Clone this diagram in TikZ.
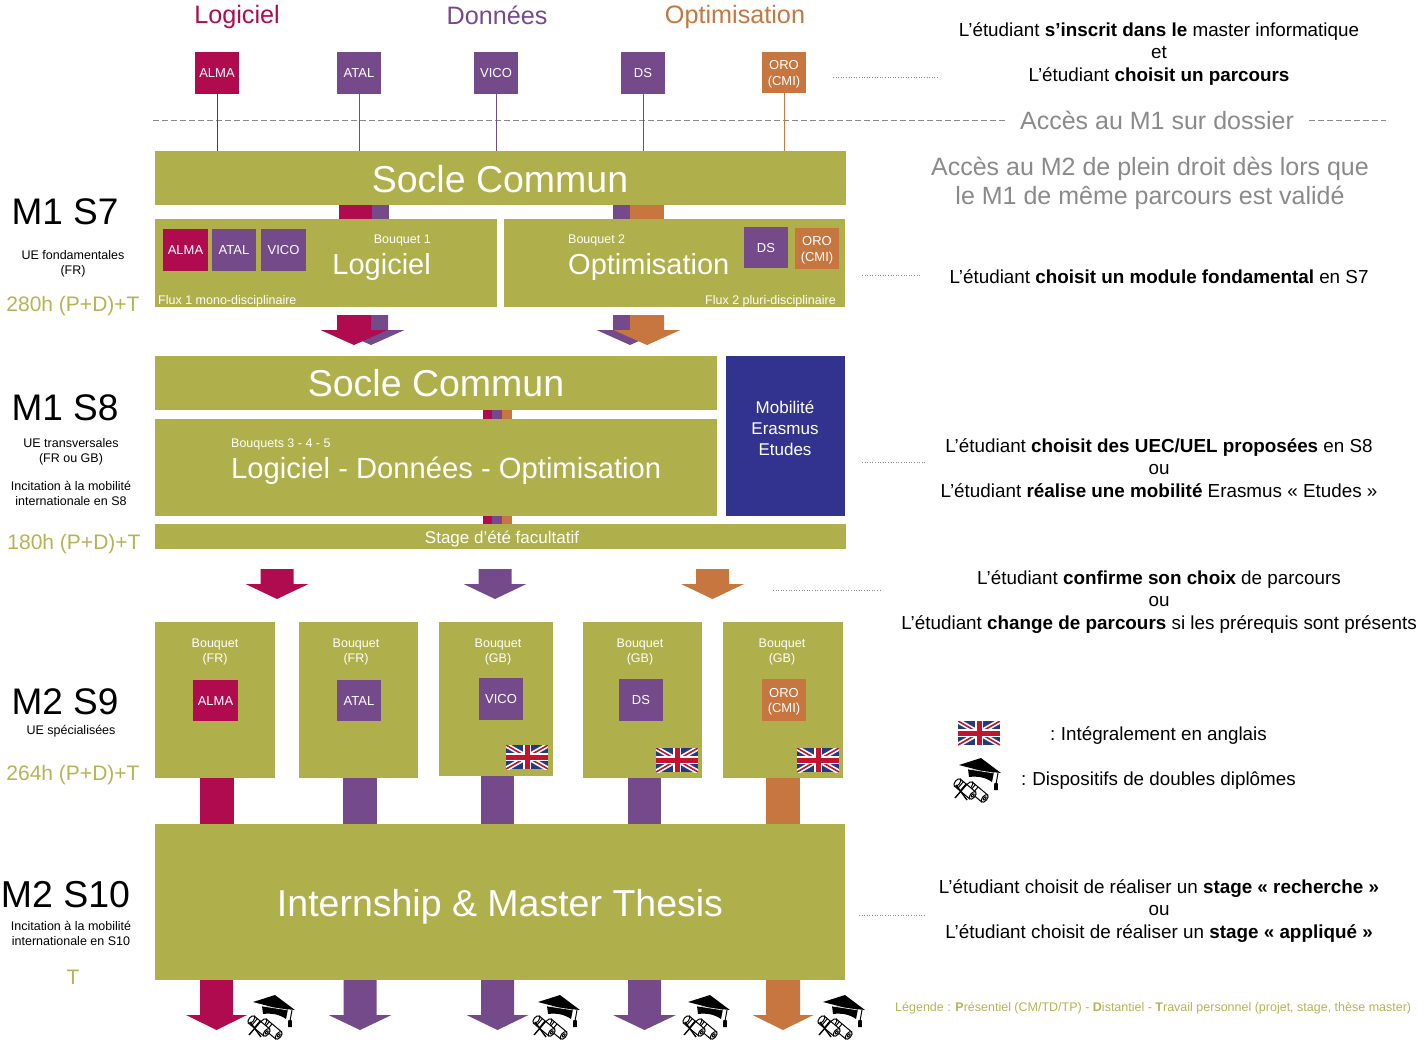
\documentclass[tikz,border=0pt]{standalone}
\usepackage{fontspec}
\setmainfont{Liberation Sans}
\definecolor{olive}{HTML}{AFAF4B}
\definecolor{olivetxt}{HTML}{B4B455}
\definecolor{crim}{HTML}{B00B4F}
\definecolor{purp}{HTML}{754A8B}
\definecolor{oran}{HTML}{C6763E}
\definecolor{navy}{HTML}{32338F}
\definecolor{greytxt}{HTML}{8A8A8A}
\definecolor{flagblue}{HTML}{24397F}
\definecolor{flagred}{HTML}{C0142F}
\newcommand{\fs}[1]{\fontsize{#1}{#1}\selectfont}
\newcommand{\pxbox}[7][]{\node[inner sep=0pt,outer sep=0pt,fill=#2,text=white,align=center,#1,
  minimum width={(#6-#4)*1pt},minimum height={(#7-#5)*1pt}] (#3) at ({(#4+#6)/2},{(#5+#7)/2}) {};}
\newcommand{\tagb}[7]{\node[inner sep=0pt,outer sep=0pt,fill=#1,text=white,align=center,
  minimum width={(#5-#3)*1pt},minimum height={(#6-#4)*1pt}] (#2) at ({(#3+#5)/2},{(#4+#6)/2}) {\raisebox{-4.8pt}[0pt][0pt]{\fontsize{13}{15.5}\selectfont\begin{tabular}{@{}c@{}}#7\end{tabular}}};}
\newcommand{\dnarrow}[7]{\fill[#1] (#2-#3,#5) -- (#2+#3,#5) -- (#2+#3,#6) -- (#2+#4,#6) -- (#2,#7) -- (#2-#4,#6) -- (#2-#3,#6) -- cycle;}
\newcommand{\ukflag}[2]{\begin{scope}[shift={(#1,#2)}]
  \clip (0,0) rectangle (42,24);
  \fill[flagblue] (0,0) rectangle (42,24);
  \draw[white,line width=5pt] (0,0) -- (42,24) (0,24) -- (42,0);
  \draw[flagred,line width=1.6pt] (0,0) -- (42,24) (0,24) -- (42,0);
  \draw[white,line width=8pt] (21,0) -- (21,24) (0,12) -- (42,12);
  \draw[flagred,line width=5pt] (21,0) -- (21,24) (0,12) -- (42,12);
\end{scope}}
\newcommand{\scrollroll}[3]{\begin{scope}[shift={(#1,#2)},rotate=-40]
  \draw[black,fill=white,line width=1pt] (-#3,-4.6) rectangle (#3,4.6);
  \draw[black,fill=white,line width=1pt] (#3,0) ellipse [x radius=2.4pt,y radius=4.6pt];
  \draw[black,fill=white,line width=1pt] (-#3,0) ellipse [x radius=2.4pt,y radius=4.6pt];
  \draw[black,line width=1pt] (-#3+4,-4.6) -- (-#3+4,4.6) (-#3+7.5,-4.6) -- (-#3+7.5,4.6) (#3,0) ellipse [x radius=1pt,y radius=2pt];
\end{scope}}
\newcommand{\gradcap}[2]{\begin{scope}[shift={(#1,#2)}]
  \fill[black] (-10,-5) -- (-9,3) .. controls (-1,2) and (7,3) .. (14,8) -- (16,-2) -- cycle;
  \fill[black] (-19,-9) -- (3,-16) -- (23,-1) -- (4,-3) -- cycle;
  \draw[white,line width=.6pt] (-10,-5) -- (3,-3) -- (16,-1);
  \draw[black,line width=1pt] (20,-1) -- (18,10);
  \fill[black] (16.3,9) -- (19.7,9) -- (20,16) -- (16,16) -- cycle;
  \scrollroll{-1}{18}{10}
  \scrollroll{-13}{15}{10}
  \draw[black,line width=1.4pt] (-23,24) -- (-11,10) (-22,11) -- (-11,26);
\end{scope}}
\tikzset{
  thinline/.style={line width=.9pt},
  leader/.style={greytxt,line width=.6pt,dotted},
  heading/.style={inner sep=0pt,font=\fs{25.2}},
  sem/.style={inner sep=0pt,font=\fs{37}},
  small/.style={inner sep=0pt,align=center,font=\fontsize{12.5}{15}\selectfont},
  hours/.style={inner sep=0pt,text=olivetxt,font=\fs{21}},
  rtext/.style={inner sep=0pt,align=center,font=\fontsize{18.85}{22.4}\selectfont},
  grey/.style={inner sep=0pt,align=center,text=greytxt,font=\fontsize{25}{29.5}\selectfont},
  wt/.style={inner sep=0pt,text=white,align=center},
}
\begin{document}
\begin{tikzpicture}[x=1pt,y=-1pt]
\useasboundingbox (0,0) rectangle (1424,1052);
% titles
\node[heading,text=crim] (tLog) at (237,17) {Logiciel};
\node[heading,text=purp] (tDon) at (497,15) {Données};
\node[heading,text=oran] (tOpt) at (735,17) {Optimisation};
% top tags
\tagb{crim}{aALMA}{195}{52}{239}{94}{ALMA}
\tagb{purp}{aATAL}{337}{52}{381}{94}{ATAL}
\tagb{purp}{aVICO}{474}{52}{518}{94}{VICO}
\tagb{purp}{aDS}{621}{52}{665}{94}{DS}
\tagb{oran}{aORO}{762}{52}{806}{93}{ORO\\(CMI)}
% dashed separator
\coordinate (dA) at (153,120); \coordinate (dB) at (1005,120);
\coordinate (dC) at (1309,120); \coordinate (dD) at (1386,120);
\draw[greytxt,line width=.8pt,dash pattern=on 6pt off 3pt] (dA) -- (dB) (dC) -- (dD);
\node[inner sep=0pt,text=greytxt,font=\fs{25}] (acc1) at (1157,120) {Accès au M1 sur dossier};
% S7 strips
\fill[crim] (339,205) rectangle (372,219);
\fill[purp] (372,205) rectangle (389,219);
\fill[purp] (613,205) rectangle (630,219);
\fill[oran] (630,205) rectangle (664,219);
% Socle S7
\pxbox{olive}{socA}{155}{151}{846}{205}
\node[wt,font=\fs{37.5}] (socAt) at (500,179) {Socle Commun};
\draw[crim,thinline] (aALMA.south) -- (aALMA.south |- socA.north);
\draw[purp,thinline] (aATAL.south) -- (aATAL.south |- socA.north);
\draw[purp,thinline] (aVICO.south) -- (aVICO.south |- socA.north);
\draw[purp,thinline] (aDS.south) -- (aDS.south |- socA.north);
\draw[oran,thinline] (aORO.south) -- (aORO.south |- socA.north);
% Bouquets 1, 2
\pxbox{olive}{bqA}{155}{219}{497}{307}
\pxbox{olive}{bqB}{504}{219}{845}{307}
\tagb{crim}{bALMA}{163}{229}{208}{271}{ALMA}
\tagb{purp}{bATAL}{212}{229}{256}{271}{ATAL}
\tagb{purp}{bVICO}{261}{229}{306}{271}{VICO}
\tagb{purp}{bDS}{744}{227}{788}{268}{DS}
\tagb{oran}{bORO}{795}{228}{839}{269}{ORO\\(CMI)}
\node[wt,font=\fs{12.5},anchor=east] (bqAa) at (431,240) {Bouquet 1};
\node[wt,font=\fs{29},anchor=east] (bqAb) at (431,267) {Logiciel};
\node[wt,font=\fs{12.5},anchor=west] (bqAc) at (158,301) {Flux 1 mono-disciplinaire};
\node[wt,font=\fs{12.5},anchor=west] (bqBa) at (568,240) {Bouquet 2};
\node[wt,font=\fs{29},anchor=west] (bqBb) at (568,267) {Optimisation};
\node[wt,font=\fs{12.5},anchor=east] (bqBc) at (836,301) {Flux 2 pluri-disciplinaire};
% arrows S7->S8
\dnarrow{purp}{371}{17}{33.5}{315}{330}{345}
\dnarrow{crim}{354}{17}{33.5}{315}{330}{345}
\dnarrow{purp}{630}{17}{33.5}{315}{330}{345}
\dnarrow{oran}{647}{17}{33.5}{315}{330}{345}
% S8
\fill[crim] (483,410) rectangle (492,419);
\fill[purp] (492,410) rectangle (502,419);
\fill[oran] (502,410) rectangle (512,419);
\fill[crim] (483,516) rectangle (492,524);
\fill[purp] (492,516) rectangle (502,524);
\fill[oran] (502,516) rectangle (512,524);
\pxbox{olive}{socB}{155}{356}{717}{410}
\node[wt,font=\fs{37.5}] (socBt) at (436,383) {Socle Commun};
\pxbox{olive}{bqC}{155}{419}{717}{516}
\node[wt,font=\fs{12.5},anchor=west] (bqCa) at (231,444) {Bouquets 3 - 4 - 5};
\node[wt,font=\fs{29.2},anchor=west] (bqCb) at (231,471) {Logiciel - Données - Optimisation};
\pxbox{navy}{mob}{726}{356}{845}{516}
\node[wt,font=\fontsize{17}{21}\selectfont] (mobt) at (785,428) {Mobilité\\Erasmus\\Etudes};
\pxbox{olive}{stage}{155}{524}{846}{549}
\node[wt,font=\fs{17}] (staget) at (502,538.5) {Stage d’été facultatif};
% arrows S8->S9
\dnarrow{crim}{277}{16.5}{31.5}{569}{584}{599}
\dnarrow{purp}{495}{16.5}{31.5}{569}{584}{599}
\dnarrow{oran}{712.5}{16.5}{31.5}{569}{584}{599}
% shafts S9->S10
\fill[crim] (200,776) rectangle (234,824);
\fill[purp] (343,776) rectangle (377,824);
\fill[purp] (481,776) rectangle (514,824);
\fill[purp] (628,776) rectangle (661,824);
\fill[oran] (766,776) rectangle (800,824);
% S9 boxes
\pxbox{olive}{sA}{155}{622}{275}{778}
\pxbox{olive}{sB}{299}{622}{418}{778}
\pxbox{olive}{sC}{439}{622}{553}{776}
\pxbox{olive}{sD}{583}{622}{702}{778}
\pxbox{olive}{sE}{723}{622}{843}{778}
\tikzset{bq/.style={wt,font=\fontsize{12.5}{15}\selectfont}}
\node[bq] (sAt) at (215,651.5) {Bouquet\\(FR)};
\node[bq] (sBt) at (356,651.5) {Bouquet\\(FR)};
\node[bq] (sCt) at (498,651.5) {Bouquet\\(GB)};
\node[bq] (sDt) at (640,651.5) {Bouquet\\(GB)};
\node[bq] (sEt) at (782,651.5) {Bouquet\\(GB)};
\tagb{crim}{cALMA}{193}{680}{238}{721}{ALMA}
\tagb{purp}{cATAL}{337}{680}{381}{721}{ATAL}
\tagb{purp}{cVICO}{479}{678}{523}{720}{VICO}
\tagb{purp}{cDS}{619}{679}{663}{721}{DS}
\tagb{oran}{cORO}{762}{679}{806}{721}{ORO\\(CMI)}
\ukflag{506}{745}
\ukflag{656}{748}
\ukflag{797}{748}
% Thesis
\pxbox{olive}{thesis}{155}{824}{845}{980}
\node[wt,font=\fs{37.5}] (thesist) at (500,907) {Internship \& Master Thesis};
% bottom arrows
\dnarrow{crim}{216.5}{16.5}{30.5}{980}{1015}{1030}
\dnarrow{purp}{360}{16.5}{31.5}{980}{1015}{1030}
\dnarrow{purp}{497.5}{16.5}{31}{980}{1015}{1030}
\dnarrow{purp}{644.5}{16.5}{31.5}{980}{1015}{1030}
\dnarrow{oran}{783}{17}{30.5}{980}{1015}{1030}
\gradcap{272}{1011}
\gradcap{557}{1011}
\gradcap{707}{1011}
\gradcap{842}{1011}
% left labels
\node[sem] (mA) at (65,212) {M1 S7};
\node[small] (mAa) at (73,263.5) {UE fondamentales\\(FR)};
\node[hours] (mAh) at (73,306) {280h (P+D)+T};
\node[sem] (mB) at (65,408) {M1 S8};
\node[small] (mBa) at (71,451.5) {UE transversales\\(FR ou GB)};
\node[small] (mBb) at (71,493.5) {Incitation à la mobilité\\internationale en S8};
\node[hours] (mBh) at (74,544) {180h (P+D)+T};
\node[sem] (mC) at (65,702) {M2 S9};
\node[small] (mCa) at (71,731) {UE spécialisées};
\node[hours] (mCh) at (73,775) {264h (P+D)+T};
\node[inner sep=0pt,font=\fs{37.5}] (mD) at (65.5,895) {M2 S10};
\node[small] (mDa) at (71,933.5) {Incitation à la mobilité\\internationale en S10};
\node[hours] (mDh) at (73,977) {T};
% right text
\node[rtext] (rA) at (1159,54) {L’étudiant \textbf{s’inscrit dans le} master informatique\\et\\L’étudiant \textbf{choisit un parcours}};
\node[grey] (rB) at (1150,183.5) {Accès au M2 de plein droit dès lors que\\le M1 de même parcours est validé};
\node[rtext] (rC) at (1159,276.5) {L’étudiant \textbf{choisit un module fondamental} en S7};
\node[rtext] (rD) at (1159,468) {L’étudiant \textbf{choisit des UEC/UEL proposées} en S8\\ou\\L’étudiant \textbf{réalise une mobilité} Erasmus « Etudes »};
\node[rtext] (rE) at (1159,602) {L’étudiant \textbf{confirme son choix} de parcours\\ou\\L’étudiant \textbf{change de parcours} si les prérequis sont présents};
\ukflag{958}{721}
\gradcap{978}{774}
\node[inner sep=0pt,font=\fs{18.8},anchor=west] (rF) at (1050,736) {:\hspace{-1.5pt} Intégralement en anglais};
\node[inner sep=0pt,font=\fs{18.8},anchor=west] (rG) at (1021,781) {:\hspace{-1pt} Dispositifs de doubles diplômes};
\node[rtext] (rH) at (1159,911) {L’étudiant choisit de réaliser un \textbf{stage « recherche »}\\ou\\L’étudiant choisit de réaliser un \textbf{stage « appliqué »}};
\node[inner sep=0pt,text=olivetxt,font=\fs{12.5},anchor=west] (leg) at (895,1008) {Légende : \textbf{P}résentiel (CM/TD/TP) - \textbf{D}istantiel - \textbf{T}ravail personnel (projet, stage, thèse master)};
% leaders
\coordinate (lAa) at (833,77); \coordinate (lAb) at (939,77);
\coordinate (lBa) at (862,275); \coordinate (lBb) at (920,275);
\coordinate (lCa) at (862,462); \coordinate (lCb) at (926,462);
\coordinate (lDa) at (773,590); \coordinate (lDb) at (880,590);
\coordinate (lEa) at (859,915); \coordinate (lEb) at (926,915);
\draw[leader] (lAa) -- (lAb);
\draw[leader] (lBa) -- (lBb);
\draw[leader] (lCa) -- (lCb);
\draw[leader] (lDa) -- (lDb);
\draw[leader] (lEa) -- (lEb);
\end{tikzpicture}
\end{document}
